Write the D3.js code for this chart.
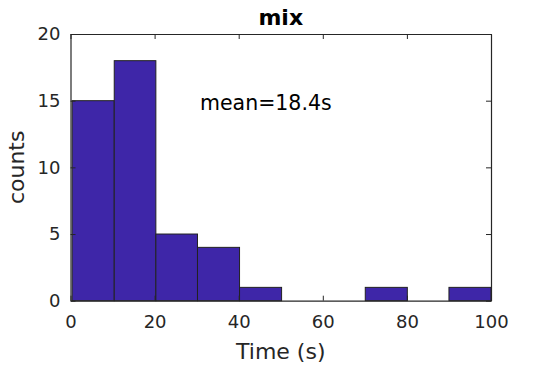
<!doctype html>
<html>
<head>
    <script src="https://d3js.org/d3.v7.min.js"></script>
</head>
<style>
    body { margin: 0; background: #fff; }
    svg text { font-family: "DejaVu Sans", sans-serif; fill: #262626; }
</style>
<body>
    <div id="chart"></div>
    <script>
        // histogram of times, 10 auto bins (MATLAB style)
        var binEdges = [0.4, 10.4, 20.3, 30.2, 40.2, 50.2, 60.2, 70.1, 80.1, 90.0, 100];
        var counts = [15, 18, 5, 4, 1, 0, 0, 1, 0, 1];
        var xTicks = [0, 20, 40, 60, 80, 100];
        var yTicks = [0, 5, 10, 15, 20];
        var title = "mix", xLabel = "Time (s)", yLabel = "counts";
        var meanText = "mean=18.4s";

        var width = 542, height = 365;
        var mLeft = 70.5, mRight = 491, mTop = 34, mBottom = 300.7;

        var x = d3.scaleLinear().domain([0, 100]).range([mLeft, mRight]);
        var y = d3.scaleLinear().domain([0, 20]).range([mBottom, mTop]);

        var svg = d3.select("#chart")
                    .append("svg")
                    .attr("width", width)
                    .attr("height", height);

        var bins = counts.map(function(c, i) {
            return { x0: binEdges[i], x1: binEdges[i + 1], n: c };
        });

        svg.selectAll("rect.bar")
           .data(bins)
           .enter()
           .append("rect")
           .attr("class", "bar")
           .attr("x", function(d) { return x(d.x0); })
           .attr("y", function(d) { return y(d.n); })
           .attr("width", function(d) { return x(d.x1) - x(d.x0); })
           .attr("height", function(d) { return y(0) - y(d.n); })
           .attr("fill", "#3e26a8")
           .attr("stroke", "#222")
           .attr("stroke-width", 1);

        // box + inward ticks on all four sides
        var tickLen = 5;
        function styleAxis(g) {
            g.attr("font-size", null).attr("font-family", null);
            g.selectAll("path").attr("stroke", "#262626");
            g.selectAll("line").attr("stroke", "#262626");
            g.selectAll("text").style("font-size", "18px").style("fill", "#262626");
        }

        var gx = svg.append("g")
           .attr("transform", "translate(0," + mBottom + ")")
           .call(d3.axisBottom(x).tickValues(xTicks).tickSizeInner(-tickLen).tickSizeOuter(0).tickPadding(15));
        styleAxis(gx);

        var gxTop = svg.append("g")
           .attr("transform", "translate(0," + mTop + ")")
           .call(d3.axisTop(x).tickValues(xTicks).tickSizeInner(-tickLen).tickSizeOuter(0).tickFormat(""));
        styleAxis(gxTop);

        var gy = svg.append("g")
           .attr("transform", "translate(" + mLeft + ",0)")
           .call(d3.axisLeft(y).tickValues(yTicks).tickSizeInner(-tickLen).tickSizeOuter(0).tickPadding(10));
        styleAxis(gy);

        var gyRight = svg.append("g")
           .attr("transform", "translate(" + mRight + ",0)")
           .call(d3.axisRight(y).tickValues(yTicks).tickSizeInner(-tickLen).tickSizeOuter(0).tickFormat(""));
        styleAxis(gyRight);

        svg.selectAll(".domain").attr("stroke-width", 1.2);

        svg.append("text")
           .attr("x", (mLeft + mRight) / 2)
           .attr("y", 25)
           .attr("text-anchor", "middle")
           .style("font-size", "22px")
           .style("font-weight", "bold")
           .style("fill", "#000")
           .text(title);

        svg.append("text")
           .attr("x", (mLeft + mRight) / 2)
           .attr("y", 359)
           .attr("text-anchor", "middle")
           .style("font-size", "22px")
           .text(xLabel);

        svg.append("text")
           .attr("transform", "translate(23.5," + (mTop + mBottom) / 2 + ") rotate(-90)")
           .attr("text-anchor", "middle")
           .style("font-size", "22px")
           .text(yLabel);

        svg.append("text")
           .attr("x", x(30.8))
           .attr("y", y(14.3))
           .style("font-size", "20.5px")
           .style("fill", "#000")
           .text(meanText);
    </script>
</body>
</html>
